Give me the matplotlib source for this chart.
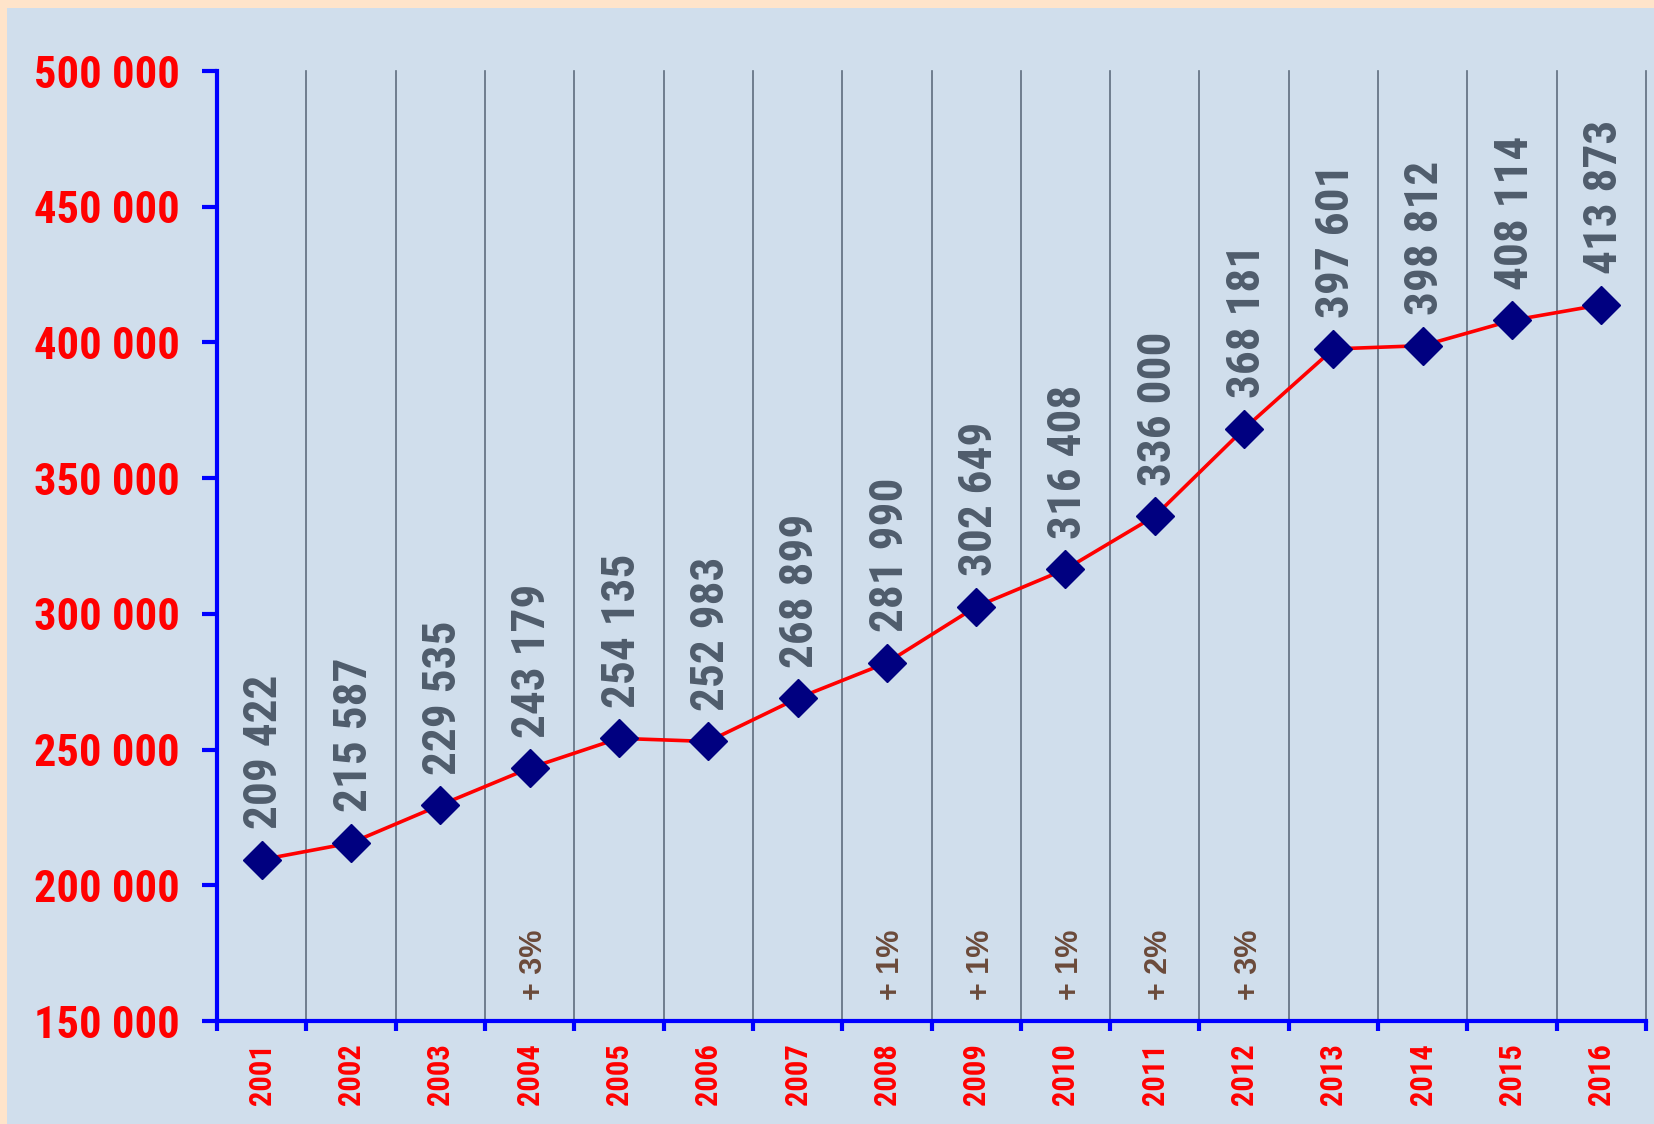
import matplotlib
matplotlib.use("Agg")
import matplotlib.pyplot as plt
from matplotlib import font_manager as fm
from matplotlib.patches import Rectangle
from matplotlib.ticker import FixedLocator, NullFormatter

years = ["2001", "2002", "2003", "2004", "2005", "2006", "2007", "2008",
         "2009", "2010", "2011", "2012", "2013", "2014", "2015", "2016"]
values = [209422, 215587, 229535, 243179, 254135, 252983, 268899, 281990,
          302649, 316408, 336000, 368181, 397601, 398812, 408114, 413873]
pct_years = ["2004", "2008", "2009", "2010", "2011", "2012"]
pct_labels = ["+ 3%", "+ 1%", "+ 1%", "+ 1%", "+ 2%", "+ 3%"]
y_ticks = [150000, 200000, 250000, 300000, 350000, 400000, 450000, 500000]


def pick_bold(cands, default):
    for c in cands:
        for f in fm.fontManager.ttflist:
            w = f.weight
            if isinstance(w, str):
                w = 700 if "bold" in w.lower() else 400
            if f.name == c and w >= 600 and f.style == "normal":
                return c
    return default


NARROW_NAME = pick_bold(["Liberation Sans Narrow", "Arial Narrow", "Roboto Condensed",
                         "IBM Plex Sans Condensed", "Fira Sans Condensed", "PT Sans Narrow",
                         "Asap Condensed"], "Liberation Sans")
NARROW = [NARROW_NAME, "DejaVu Sans"]
WIDE = ["Liberation Sans", "DejaVu Sans"]

W, H = 1654, 1124
fig = plt.figure(figsize=(W / 100, H / 100), dpi=100)
fig.patch.set_facecolor("#FFE4CA")
fig.patches.append(Rectangle((7 / W, 0), 1 - 7 / W, 1 - 8 / H, transform=fig.transFigure,
                             facecolor="#D0DEEC", edgecolor="none", zorder=-10))

ax = fig.add_axes([217 / W, 1 - 1021 / H, (1646 - 217) / W, (1021 - 71) / H])
ax.set_facecolor("none")

n = len(years)
xs = list(range(n))
ax.set_xlim(-0.5, n - 0.5)
ax.set_ylim(150000, 500000)

# vertical grid at category boundaries
bounds = [i - 0.5 for i in range(n + 1)]
for b in bounds[1:]:
    ax.plot([b, b], [150000, 500000], color="#5E6D7E", lw=1.2, zorder=1, clip_on=False)

ax.plot(xs, values, color="#FF0000", lw=2.6, zorder=3)
ax.plot(xs, values, linestyle="none", marker="D", ms=19, color="#000080", zorder=4)

for x, v in zip(xs, values):
    ax.annotate(f"{v:,}".replace(",", " "), (x, v), xytext=(2, 22), textcoords="offset points",
                rotation=90, ha="center", va="bottom", fontsize=34, fontweight="bold",
                color="#4F5C6C", family=NARROW, zorder=5)

for yr, lab in zip(pct_years, pct_labels):
    x = years.index(yr)
    ax.text(x + 0.05, 157700, lab, rotation=90, ha="center", va="bottom", fontsize=22,
            fontweight="bold", color="#6B4A3A", family=WIDE, zorder=5)

for s in ["top", "right"]:
    ax.spines[s].set_visible(False)
for s in ["left", "bottom"]:
    ax.spines[s].set_color("#0000FF")
    ax.spines[s].set_linewidth(3)

ax.yaxis.set_major_locator(FixedLocator(y_ticks))
ax.set_yticklabels([f"{t:,}".replace(",", " ") for t in y_ticks], color="#FF0000",
                   fontsize=32, fontweight="bold", family=NARROW)
ax.tick_params(axis="y", direction="out", length=11, width=3, color="#0000FF", pad=16)

ax.xaxis.set_major_locator(FixedLocator(bounds))
ax.xaxis.set_major_formatter(NullFormatter())
ax.xaxis.set_minor_locator(FixedLocator(xs))
ax.set_xticklabels(years, minor=True, rotation=90, color="#FF0000", fontsize=22,
                   fontweight="bold", family=NARROW)
ax.tick_params(axis="x", which="major", direction="out", length=7, width=3, color="#0000FF")
ax.tick_params(axis="x", which="minor", length=0, pad=16)

fig.savefig("out.png", dpi=100, facecolor=fig.get_facecolor())
